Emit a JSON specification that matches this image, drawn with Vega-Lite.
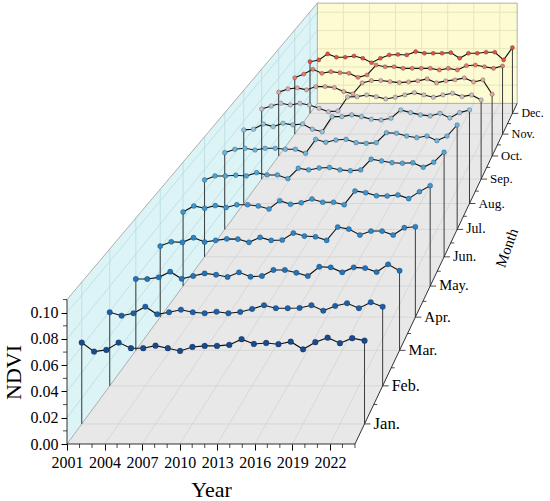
{
"$schema": "https://vega.github.io/schema/vega-lite/v6.json",
"width": 483, "height": 444,
"autosize": {"type": "none"},
"padding": {"left": 67, "top": 0, "right": 0, "bottom": 57},
"background": "white",
"config": {"view": {"stroke": null}, "font": "Liberation Serif", "axis": {"labelFont": "Liberation Serif", "titleFont": "Liberation Serif"}},
"datasets": {
"ndvi": [
{"m":1,"yr":2001,"v":0.0631},{"m":1,"yr":2002,"v":0.0561},{"m":1,"yr":2003,"v":0.0574},{"m":1,"yr":2004,"v":0.0631},{"m":1,"yr":2005,"v":0.0587},{"m":1,"yr":2006,"v":0.0587},{"m":1,"yr":2007,"v":0.0607},{"m":1,"yr":2008,"v":0.0587},{"m":1,"yr":2009,"v":0.0566},{"m":1,"yr":2010,"v":0.0597},{"m":1,"yr":2011,"v":0.0605},{"m":1,"yr":2012,"v":0.0605},{"m":1,"yr":2013,"v":0.0613},{"m":1,"yr":2014,"v":0.0657},{"m":1,"yr":2015,"v":0.0620},{"m":1,"yr":2016,"v":0.0628},{"m":1,"yr":2017,"v":0.0618},{"m":1,"yr":2018,"v":0.0638},{"m":1,"yr":2019,"v":0.0579},{"m":1,"yr":2020,"v":0.0634},{"m":1,"yr":2021,"v":0.0669},{"m":1,"yr":2022,"v":0.0626},{"m":1,"yr":2023,"v":0.0665},{"m":1,"yr":2024,"v":0.0646},
{"m":2,"yr":2001,"v":0.0591},{"m":2,"yr":2002,"v":0.0564},{"m":2,"yr":2003,"v":0.0583},{"m":2,"yr":2004,"v":0.0636},{"m":2,"yr":2005,"v":0.0575},{"m":2,"yr":2006,"v":0.0591},{"m":2,"yr":2007,"v":0.0612},{"m":2,"yr":2008,"v":0.0591},{"m":2,"yr":2009,"v":0.0583},{"m":2,"yr":2010,"v":0.0596},{"m":2,"yr":2011,"v":0.0583},{"m":2,"yr":2012,"v":0.0594},{"m":2,"yr":2013,"v":0.0618},{"m":2,"yr":2014,"v":0.0648},{"m":2,"yr":2015,"v":0.0624},{"m":2,"yr":2016,"v":0.0624},{"m":2,"yr":2017,"v":0.0626},{"m":2,"yr":2018,"v":0.0648},{"m":2,"yr":2019,"v":0.0604},{"m":2,"yr":2020,"v":0.0642},{"m":2,"yr":2021,"v":0.0664},{"m":2,"yr":2022,"v":0.0624},{"m":2,"yr":2023,"v":0.0672},{"m":2,"yr":2024,"v":0.0636},
{"m":3,"yr":2001,"v":0.0593},{"m":3,"yr":2002,"v":0.0593},{"m":3,"yr":2003,"v":0.0607},{"m":3,"yr":2004,"v":0.0654},{"m":3,"yr":2005,"v":0.0595},{"m":3,"yr":2006,"v":0.0618},{"m":3,"yr":2007,"v":0.0640},{"m":3,"yr":2008,"v":0.0629},{"m":3,"yr":2009,"v":0.0610},{"m":3,"yr":2010,"v":0.0649},{"m":3,"yr":2011,"v":0.0612},{"m":3,"yr":2012,"v":0.0618},{"m":3,"yr":2013,"v":0.0668},{"m":3,"yr":2014,"v":0.0668},{"m":3,"yr":2015,"v":0.0645},{"m":3,"yr":2016,"v":0.0618},{"m":3,"yr":2017,"v":0.0695},{"m":3,"yr":2018,"v":0.0690},{"m":3,"yr":2019,"v":0.0649},{"m":3,"yr":2020,"v":0.0690},{"m":3,"yr":2021,"v":0.0684},{"m":3,"yr":2022,"v":0.0651},{"m":3,"yr":2023,"v":0.0715},{"m":3,"yr":2024,"v":0.0662},
{"m":4,"yr":2001,"v":0.0611},{"m":4,"yr":2002,"v":0.0648},{"m":4,"yr":2003,"v":0.0643},{"m":4,"yr":2004,"v":0.0683},{"m":4,"yr":2005,"v":0.0646},{"m":4,"yr":2006,"v":0.0660},{"m":4,"yr":2007,"v":0.0673},{"m":4,"yr":2008,"v":0.0671},{"m":4,"yr":2009,"v":0.0643},{"m":4,"yr":2010,"v":0.0686},{"m":4,"yr":2011,"v":0.0660},{"m":4,"yr":2012,"v":0.0663},{"m":4,"yr":2013,"v":0.0723},{"m":4,"yr":2014,"v":0.0697},{"m":4,"yr":2015,"v":0.0691},{"m":4,"yr":2016,"v":0.0660},{"m":4,"yr":2017,"v":0.0775},{"m":4,"yr":2018,"v":0.0757},{"m":4,"yr":2019,"v":0.0706},{"m":4,"yr":2020,"v":0.0740},{"m":4,"yr":2021,"v":0.0740},{"m":4,"yr":2022,"v":0.0706},{"m":4,"yr":2023,"v":0.0769},{"m":4,"yr":2024,"v":0.0777},
{"m":5,"yr":2001,"v":0.0658},{"m":5,"yr":2002,"v":0.0711},{"m":5,"yr":2003,"v":0.0691},{"m":5,"yr":2004,"v":0.0714},{"m":5,"yr":2005,"v":0.0698},{"m":5,"yr":2006,"v":0.0722},{"m":5,"yr":2007,"v":0.0722},{"m":5,"yr":2008,"v":0.0711},{"m":5,"yr":2009,"v":0.0684},{"m":5,"yr":2010,"v":0.0758},{"m":5,"yr":2011,"v":0.0726},{"m":5,"yr":2012,"v":0.0740},{"m":5,"yr":2013,"v":0.0773},{"m":5,"yr":2014,"v":0.0744},{"m":5,"yr":2015,"v":0.0744},{"m":5,"yr":2016,"v":0.0722},{"m":5,"yr":2017,"v":0.0844},{"m":5,"yr":2018,"v":0.0829},{"m":5,"yr":2019,"v":0.0801},{"m":5,"yr":2020,"v":0.0800},{"m":5,"yr":2021,"v":0.0809},{"m":5,"yr":2022,"v":0.0776},{"m":5,"yr":2023,"v":0.0838},{"m":5,"yr":2024,"v":0.0891},
{"m":6,"yr":2001,"v":0.0704},{"m":6,"yr":2002,"v":0.0741},{"m":6,"yr":2003,"v":0.0741},{"m":6,"yr":2004,"v":0.0747},{"m":6,"yr":2005,"v":0.0741},{"m":6,"yr":2006,"v":0.0771},{"m":6,"yr":2007,"v":0.0750},{"m":6,"yr":2008,"v":0.0750},{"m":6,"yr":2009,"v":0.0716},{"m":6,"yr":2010,"v":0.0811},{"m":6,"yr":2011,"v":0.0796},{"m":6,"yr":2012,"v":0.0814},{"m":6,"yr":2013,"v":0.0818},{"m":6,"yr":2014,"v":0.0796},{"m":6,"yr":2015,"v":0.0789},{"m":6,"yr":2016,"v":0.0796},{"m":6,"yr":2017,"v":0.0894},{"m":6,"yr":2018,"v":0.0878},{"m":6,"yr":2019,"v":0.0862},{"m":6,"yr":2020,"v":0.0857},{"m":6,"yr":2021,"v":0.0862},{"m":6,"yr":2022,"v":0.0820},{"m":6,"yr":2023,"v":0.0866},{"m":6,"yr":2024,"v":0.0958},
{"m":7,"yr":2001,"v":0.0724},{"m":7,"yr":2002,"v":0.0756},{"m":7,"yr":2003,"v":0.0765},{"m":7,"yr":2004,"v":0.0749},{"m":7,"yr":2005,"v":0.0765},{"m":7,"yr":2006,"v":0.0765},{"m":7,"yr":2007,"v":0.0756},{"m":7,"yr":2008,"v":0.0756},{"m":7,"yr":2009,"v":0.0718},{"m":7,"yr":2010,"v":0.0850},{"m":7,"yr":2011,"v":0.0822},{"m":7,"yr":2012,"v":0.0843},{"m":7,"yr":2013,"v":0.0850},{"m":7,"yr":2014,"v":0.0818},{"m":7,"yr":2015,"v":0.0812},{"m":7,"yr":2016,"v":0.0818},{"m":7,"yr":2017,"v":0.0912},{"m":7,"yr":2018,"v":0.0907},{"m":7,"yr":2019,"v":0.0881},{"m":7,"yr":2020,"v":0.0865},{"m":7,"yr":2021,"v":0.0881},{"m":7,"yr":2022,"v":0.0837},{"m":7,"yr":2023,"v":0.0881},{"m":7,"yr":2024,"v":0.0985},
{"m":8,"yr":2001,"v":0.0715},{"m":8,"yr":2002,"v":0.0722},{"m":8,"yr":2003,"v":0.0773},{"m":8,"yr":2004,"v":0.0747},{"m":8,"yr":2005,"v":0.0780},{"m":8,"yr":2006,"v":0.0764},{"m":8,"yr":2007,"v":0.0773},{"m":8,"yr":2008,"v":0.0722},{"m":8,"yr":2009,"v":0.0698},{"m":8,"yr":2010,"v":0.0844},{"m":8,"yr":2011,"v":0.0844},{"m":8,"yr":2012,"v":0.0861},{"m":8,"yr":2013,"v":0.0844},{"m":8,"yr":2014,"v":0.0819},{"m":8,"yr":2015,"v":0.0812},{"m":8,"yr":2016,"v":0.0829},{"m":8,"yr":2017,"v":0.0909},{"m":8,"yr":2018,"v":0.0883},{"m":8,"yr":2019,"v":0.0861},{"m":8,"yr":2020,"v":0.0851},{"m":8,"yr":2021,"v":0.0877},{"m":8,"yr":2022,"v":0.0832},{"m":8,"yr":2023,"v":0.0883},{"m":8,"yr":2024,"v":0.0909},
{"m":9,"yr":2001,"v":0.0701},{"m":9,"yr":2002,"v":0.0731},{"m":9,"yr":2003,"v":0.0758},{"m":9,"yr":2004,"v":0.0741},{"m":9,"yr":2005,"v":0.0758},{"m":9,"yr":2006,"v":0.0741},{"m":9,"yr":2007,"v":0.0708},{"m":9,"yr":2008,"v":0.0674},{"m":9,"yr":2009,"v":0.0681},{"m":9,"yr":2010,"v":0.0821},{"m":9,"yr":2011,"v":0.0824},{"m":9,"yr":2012,"v":0.0841},{"m":9,"yr":2013,"v":0.0824},{"m":9,"yr":2014,"v":0.0801},{"m":9,"yr":2015,"v":0.0818},{"m":9,"yr":2016,"v":0.0841},{"m":9,"yr":2017,"v":0.0864},{"m":9,"yr":2018,"v":0.0841},{"m":9,"yr":2019,"v":0.0818},{"m":9,"yr":2020,"v":0.0841},{"m":9,"yr":2021,"v":0.0858},{"m":9,"yr":2022,"v":0.0824},{"m":9,"yr":2023,"v":0.0841},{"m":9,"yr":2024,"v":0.0791},
{"m":10,"yr":2001,"v":0.0656},{"m":10,"yr":2002,"v":0.0689},{"m":10,"yr":2003,"v":0.0700},{"m":10,"yr":2004,"v":0.0679},{"m":10,"yr":2005,"v":0.0713},{"m":10,"yr":2006,"v":0.0713},{"m":10,"yr":2007,"v":0.0703},{"m":10,"yr":2008,"v":0.0662},{"m":10,"yr":2009,"v":0.0638},{"m":10,"yr":2010,"v":0.0751},{"m":10,"yr":2011,"v":0.0775},{"m":10,"yr":2012,"v":0.0775},{"m":10,"yr":2013,"v":0.0764},{"m":10,"yr":2014,"v":0.0754},{"m":10,"yr":2015,"v":0.0761},{"m":10,"yr":2016,"v":0.0772},{"m":10,"yr":2017,"v":0.0792},{"m":10,"yr":2018,"v":0.0751},{"m":10,"yr":2019,"v":0.0772},{"m":10,"yr":2020,"v":0.0782},{"m":10,"yr":2021,"v":0.0802},{"m":10,"yr":2022,"v":0.0761},{"m":10,"yr":2023,"v":0.0782},{"m":10,"yr":2024,"v":0.0635},
{"m":11,"yr":2001,"v":0.0595},{"m":11,"yr":2002,"v":0.0634},{"m":11,"yr":2003,"v":0.0684},{"m":11,"yr":2004,"v":0.0642},{"m":11,"yr":2005,"v":0.0659},{"m":11,"yr":2006,"v":0.0648},{"m":11,"yr":2007,"v":0.0642},{"m":11,"yr":2008,"v":0.0599},{"m":11,"yr":2009,"v":0.0624},{"m":11,"yr":2010,"v":0.0729},{"m":11,"yr":2011,"v":0.0711},{"m":11,"yr":2012,"v":0.0711},{"m":11,"yr":2013,"v":0.0694},{"m":11,"yr":2014,"v":0.0694},{"m":11,"yr":2015,"v":0.0694},{"m":11,"yr":2016,"v":0.0694},{"m":11,"yr":2017,"v":0.0677},{"m":11,"yr":2018,"v":0.0694},{"m":11,"yr":2019,"v":0.0677},{"m":11,"yr":2020,"v":0.0722},{"m":11,"yr":2021,"v":0.0729},{"m":11,"yr":2022,"v":0.0711},{"m":11,"yr":2023,"v":0.0694},{"m":11,"yr":2024,"v":0.0719},
{"m":12,"yr":2001,"v":0.0560},{"m":12,"yr":2002,"v":0.0579},{"m":12,"yr":2003,"v":0.0644},{"m":12,"yr":2004,"v":0.0608},{"m":12,"yr":2005,"v":0.0608},{"m":12,"yr":2006,"v":0.0622},{"m":12,"yr":2007,"v":0.0597},{"m":12,"yr":2008,"v":0.0549},{"m":12,"yr":2009,"v":0.0597},{"m":12,"yr":2010,"v":0.0633},{"m":12,"yr":2011,"v":0.0638},{"m":12,"yr":2012,"v":0.0633},{"m":12,"yr":2013,"v":0.0669},{"m":12,"yr":2014,"v":0.0651},{"m":12,"yr":2015,"v":0.0651},{"m":12,"yr":2016,"v":0.0651},{"m":12,"yr":2017,"v":0.0658},{"m":12,"yr":2018,"v":0.0597},{"m":12,"yr":2019,"v":0.0651},{"m":12,"yr":2020,"v":0.0651},{"m":12,"yr":2021,"v":0.0662},{"m":12,"yr":2022,"v":0.0662},{"m":12,"yr":2023,"v":0.0579},{"m":12,"yr":2024,"v":0.0712}
],
"seg": [
{"g":"f","yrA":2001,"mA":1,"vA":0,"yrB":2024,"mB":1,"vB":0},{"g":"f","yrA":2001,"mA":2,"vA":0,"yrB":2024,"mB":2,"vB":0},{"g":"f","yrA":2001,"mA":3,"vA":0,"yrB":2024,"mB":3,"vB":0},{"g":"f","yrA":2001,"mA":4,"vA":0,"yrB":2024,"mB":4,"vB":0},{"g":"f","yrA":2001,"mA":5,"vA":0,"yrB":2024,"mB":5,"vB":0},{"g":"f","yrA":2001,"mA":6,"vA":0,"yrB":2024,"mB":6,"vB":0},{"g":"f","yrA":2001,"mA":7,"vA":0,"yrB":2024,"mB":7,"vB":0},{"g":"f","yrA":2001,"mA":8,"vA":0,"yrB":2024,"mB":8,"vB":0},{"g":"f","yrA":2001,"mA":9,"vA":0,"yrB":2024,"mB":9,"vB":0},{"g":"f","yrA":2001,"mA":10,"vA":0,"yrB":2024,"mB":10,"vB":0},{"g":"f","yrA":2001,"mA":11,"vA":0,"yrB":2024,"mB":11,"vB":0},{"g":"f","yrA":2001,"mA":12,"vA":0,"yrB":2024,"mB":12,"vB":0},
{"g":"f","yrA":2004,"mA":0.5,"vA":0,"yrB":2004,"mB":12.5,"vB":0},{"g":"f","yrA":2007,"mA":0.5,"vA":0,"yrB":2007,"mB":12.5,"vB":0},{"g":"f","yrA":2010,"mA":0.5,"vA":0,"yrB":2010,"mB":12.5,"vB":0},{"g":"f","yrA":2013,"mA":0.5,"vA":0,"yrB":2013,"mB":12.5,"vB":0},{"g":"f","yrA":2016,"mA":0.5,"vA":0,"yrB":2016,"mB":12.5,"vB":0},{"g":"f","yrA":2019,"mA":0.5,"vA":0,"yrB":2019,"mB":12.5,"vB":0},{"g":"f","yrA":2022,"mA":0.5,"vA":0,"yrB":2022,"mB":12.5,"vB":0},
{"g":"w","yrA":2001,"mA":1,"vA":0,"yrB":2001,"mB":1,"vB":0.11},{"g":"w","yrA":2001,"mA":2,"vA":0,"yrB":2001,"mB":2,"vB":0.11},{"g":"w","yrA":2001,"mA":3,"vA":0,"yrB":2001,"mB":3,"vB":0.11},{"g":"w","yrA":2001,"mA":4,"vA":0,"yrB":2001,"mB":4,"vB":0.11},{"g":"w","yrA":2001,"mA":5,"vA":0,"yrB":2001,"mB":5,"vB":0.11},{"g":"w","yrA":2001,"mA":6,"vA":0,"yrB":2001,"mB":6,"vB":0.11},{"g":"w","yrA":2001,"mA":7,"vA":0,"yrB":2001,"mB":7,"vB":0.11},{"g":"w","yrA":2001,"mA":8,"vA":0,"yrB":2001,"mB":8,"vB":0.11},{"g":"w","yrA":2001,"mA":9,"vA":0,"yrB":2001,"mB":9,"vB":0.11},{"g":"w","yrA":2001,"mA":10,"vA":0,"yrB":2001,"mB":10,"vB":0.11},{"g":"w","yrA":2001,"mA":11,"vA":0,"yrB":2001,"mB":11,"vB":0.11},{"g":"w","yrA":2001,"mA":12,"vA":0,"yrB":2001,"mB":12,"vB":0.11},
{"g":"w","yrA":2001,"mA":0.5,"vA":0.02,"yrB":2001,"mB":12.5,"vB":0.02},{"g":"w","yrA":2001,"mA":0.5,"vA":0.04,"yrB":2001,"mB":12.5,"vB":0.04},{"g":"w","yrA":2001,"mA":0.5,"vA":0.06,"yrB":2001,"mB":12.5,"vB":0.06},{"g":"w","yrA":2001,"mA":0.5,"vA":0.08,"yrB":2001,"mB":12.5,"vB":0.08},{"g":"w","yrA":2001,"mA":0.5,"vA":0.10,"yrB":2001,"mB":12.5,"vB":0.10},
{"g":"b","yrA":2004,"mA":12.5,"vA":0,"yrB":2004,"mB":12.5,"vB":0.11},{"g":"b","yrA":2007,"mA":12.5,"vA":0,"yrB":2007,"mB":12.5,"vB":0.11},{"g":"b","yrA":2010,"mA":12.5,"vA":0,"yrB":2010,"mB":12.5,"vB":0.11},{"g":"b","yrA":2013,"mA":12.5,"vA":0,"yrB":2013,"mB":12.5,"vB":0.11},{"g":"b","yrA":2016,"mA":12.5,"vA":0,"yrB":2016,"mB":12.5,"vB":0.11},{"g":"b","yrA":2019,"mA":12.5,"vA":0,"yrB":2019,"mB":12.5,"vB":0.11},{"g":"b","yrA":2022,"mA":12.5,"vA":0,"yrB":2022,"mB":12.5,"vB":0.11},
{"g":"b","yrA":2001,"mA":12.5,"vA":0.02,"yrB":2024,"mB":12.5,"vB":0.02},{"g":"b","yrA":2001,"mA":12.5,"vA":0.04,"yrB":2024,"mB":12.5,"vB":0.04},{"g":"b","yrA":2001,"mA":12.5,"vA":0.06,"yrB":2024,"mB":12.5,"vB":0.06},{"g":"b","yrA":2001,"mA":12.5,"vA":0.08,"yrB":2024,"mB":12.5,"vB":0.08},{"g":"b","yrA":2001,"mA":12.5,"vA":0.10,"yrB":2024,"mB":12.5,"vB":0.10},
{"g":"e","yrA":2001,"mA":0.5,"vA":0.11,"yrB":2001,"mB":12.5,"vB":0.11},{"g":"e","yrA":2001,"mA":0.5,"vA":0,"yrB":2001,"mB":12.5,"vB":0},{"g":"e","yrA":2001,"mA":12.5,"vA":0,"yrB":2001,"mB":12.5,"vB":0.11},{"g":"e","yrA":2001,"mA":12.5,"vA":0.11,"yrB":2024,"mB":12.5,"vB":0.11},{"g":"e","yrA":2024,"mA":12.5,"vA":0,"yrB":2024,"mB":12.5,"vB":0.11},{"g":"e","yrA":2001,"mA":12.5,"vA":0,"yrB":2024,"mB":12.5,"vB":0},
{"g":"a","yrA":2001,"mA":0.5,"vA":0,"yrB":2024,"mB":0.5,"vB":0},{"g":"a","yrA":2001,"mA":0.5,"vA":0,"yrB":2001,"mB":0.5,"vB":0.11},{"g":"a","yrA":2024,"mA":0.5,"vA":0,"yrB":2024,"mB":12.5,"vB":0}
],
"months": [
{"m":1,"label":"Jan."},{"m":2,"label":"Feb."},{"m":3,"label":"Mar."},{"m":4,"label":"Apr."},{"m":5,"label":"May."},{"m":6,"label":"Jun."},{"m":7,"label":"Jul."},{"m":8,"label":"Aug."},{"m":9,"label":"Sep."},{"m":10,"label":"Oct."},{"m":11,"label":"Nov."},{"m":12,"label":"Dec."}
]
},
"encoding": {
"x": {"field": "X", "type": "quantitative", "scale": {"domain": [2001, 2039.578], "nice": false, "zero": false},
 "axis": {"values": [2001,2004,2007,2010,2013,2016,2019,2022], "format": "d", "domain": false, "grid": false, "tickSize": 6, "tickColor": "black", "tickWidth": 1, "labelFont": "Liberation Serif", "labelFontSize": 16, "labelColor": "black", "labelPadding": 4, "labelFlush": false, "labelOverlap": false, "title": "Year", "titleFont": "Liberation Serif", "titleFontSize": 22, "titleFontWeight": "normal", "titleColor": "black", "titleX": 144, "titleY": 45, "titleAlign": "center", "titleBaseline": "middle", "titleAnchor": null}},
"y": {"field": "Y", "type": "quantitative", "scale": {"domain": [0, 0.338157], "nice": false, "zero": false},
 "axis": {"values": [0,0.02,0.04,0.06,0.08,0.1], "format": ".2f", "domain": false, "grid": false, "tickSize": 6, "tickColor": "black", "tickWidth": 1, "labelFont": "Liberation Serif", "labelFontSize": 16, "labelColor": "black", "labelPadding": 3, "labelFlush": false, "labelOverlap": false, "title": "NDVI", "titleFont": "Liberation Serif", "titleFontSize": 22, "titleFontWeight": "normal", "titleColor": "black", "titleX": -54, "titleY": 372, "titleAngle": -90, "titleAlign": "center", "titleBaseline": "middle", "titleAnchor": null}}
},
"layer": [
{
 "data": {"values": [{"yr": 2001, "yr2": 2024, "m": 12.5, "v": 0, "v2": 0.11}]},
 "transform": [
  {"calculate": "1/(1+(datum.m-0.5)*0.03675)", "as": "s"},
  {"calculate": "2066.335+(datum.yr-2066.335)*datum.s", "as": "X"},
  {"calculate": "2066.335+(datum.yr2-2066.335)*datum.s", "as": "X2"},
  {"calculate": "0.84768+(datum.v-0.84768)*datum.s", "as": "Y"},
  {"calculate": "0.84768+(datum.v2-0.84768)*datum.s", "as": "Y2"}
 ],
 "mark": {"type": "rect", "fill": "#fdfbd2"},
 "encoding": {"x2": {"field": "X2"}, "y2": {"field": "Y2"}}
},
{
 "data": {"values": [{"yr": 2001, "yr2": 2024, "m": 0.5, "v": 0}, {"yr": 2001, "yr2": 2024, "m": 12.5, "v": 0}]},
 "transform": [
  {"calculate": "1/(1+(datum.m-0.5)*0.03675)", "as": "s"},
  {"calculate": "2066.335+(datum.yr-2066.335)*datum.s", "as": "X"},
  {"calculate": "2066.335+(datum.yr2-2066.335)*datum.s", "as": "X2"},
  {"calculate": "0.84768+(datum.v-0.84768)*datum.s", "as": "Y"}
 ],
 "mark": {"type": "area", "orient": "horizontal", "fill": "#e8e8e8"},
 "encoding": {"x2": {"field": "X2"}}
},
{
 "data": {"values": [{"yr": 2001, "m": 0.5, "v": 0, "v2": 0.11}, {"yr": 2001, "m": 12.5, "v": 0, "v2": 0.11}]},
 "transform": [
  {"calculate": "1/(1+(datum.m-0.5)*0.03675)", "as": "s"},
  {"calculate": "2066.335+(datum.yr-2066.335)*datum.s", "as": "X"},
  {"calculate": "0.84768+(datum.v-0.84768)*datum.s", "as": "Y"},
  {"calculate": "0.84768+(datum.v2-0.84768)*datum.s", "as": "Y2"}
 ],
 "mark": {"type": "area", "orient": "vertical", "fill": "#ddf4f6"},
 "encoding": {"y2": {"field": "Y2"}}
},
{
 "data": {"name": "seg"},
 "transform": [
  {"calculate": "1/(1+(datum.mA-0.5)*0.03675)", "as": "sA"},
  {"calculate": "1/(1+(datum.mB-0.5)*0.03675)", "as": "sB"},
  {"calculate": "2066.335+(datum.yrA-2066.335)*datum.sA", "as": "X"},
  {"calculate": "0.84768+(datum.vA-0.84768)*datum.sA", "as": "Y"},
  {"calculate": "2066.335+(datum.yrB-2066.335)*datum.sB", "as": "X2"},
  {"calculate": "0.84768+(datum.vB-0.84768)*datum.sB", "as": "Y2"}
 ],
 "mark": {"type": "rule"},
 "encoding": {
  "x2": {"field": "X2"}, "y2": {"field": "Y2"},
  "stroke": {"field": "g", "type": "nominal", "scale": {"domain": ["f","w","b","e","a"], "range": ["#d3d3d3","#b8dce1","#e3e0b6","#9a9a9a","#000000"]}, "legend": null},
  "strokeWidth": {"field": "g", "type": "nominal", "scale": {"domain": ["f","w","b","e","a"], "range": [0.8,0.8,0.8,1,1.3]}, "legend": null}
 }
},
{
 "data": {"name": "ndvi"},
 "transform": [
  {"filter": "datum.yr == 2001 || datum.yr == 2024"},
  {"calculate": "1/(1+(datum.m-0.5)*0.03675)", "as": "s"},
  {"calculate": "2066.335+(datum.yr-2066.335)*datum.s", "as": "X"},
  {"calculate": "0.84768+(datum.v-0.84768)*datum.s", "as": "Y"},
  {"calculate": "0.84768*(1-datum.s)", "as": "Y2"}
 ],
 "mark": {"type": "rule", "color": "#3c3c3c", "strokeWidth": 1},
 "encoding": {"y2": {"field": "Y2"}}
},
{
 "data": {"name": "ndvi"},
 "transform": [
  {"calculate": "1/(1+(datum.m-0.5)*0.03675)", "as": "s"},
  {"calculate": "2066.335+(datum.yr-2066.335)*datum.s", "as": "X"},
  {"calculate": "0.84768+(datum.v-0.84768)*datum.s", "as": "Y"}
 ],
 "mark": {"type": "line", "color": "#111111", "strokeWidth": 1.1},
 "encoding": {"detail": {"field": "m", "type": "nominal"}, "order": {"field": "yr", "type": "quantitative"}}
},
{
 "data": {"name": "ndvi"},
 "transform": [
  {"calculate": "1/(1+(datum.m-0.5)*0.03675)", "as": "s"},
  {"calculate": "2066.335+(datum.yr-2066.335)*datum.s", "as": "X"},
  {"calculate": "0.84768+(datum.v-0.84768)*datum.s", "as": "Y"},
  {"calculate": "34*datum.s*datum.s", "as": "sz"}
 ],
 "mark": {"type": "point", "filled": true, "shape": "circle", "opacity": 1, "stroke": "#0a1a30", "strokeOpacity": 0.45, "strokeWidth": 0.6},
 "encoding": {
  "fill": {"field": "m", "type": "ordinal", "scale": {"domain": [1,2,3,4,5,6,7,8,9,10,11,12], "range": ["#1a4a8c","#1d60a9","#2274ba","#2a86c8","#3a97d1","#4ea6d7","#6db5da","#9ac3d6","#cbbfc3","#e5a898","#ec7d62","#e4523c"]}, "legend": null},
  "size": {"field": "sz", "type": "quantitative", "scale": null}
 }
},
{
 "data": {"values": [{"yr":2002},{"yr":2003},{"yr":2005},{"yr":2006},{"yr":2008},{"yr":2009},{"yr":2011},{"yr":2012},{"yr":2014},{"yr":2015},{"yr":2017},{"yr":2018},{"yr":2020},{"yr":2021},{"yr":2023},{"yr":2024}]},
 "transform": [{"calculate": "datum.yr", "as": "X"}, {"calculate": "0", "as": "Y"}],
 "mark": {"type": "tick", "orient": "vertical", "size": 4, "thickness": 1, "color": "black", "yOffset": 2}
},
{
 "data": {"values": [{"v":0.01},{"v":0.03},{"v":0.05},{"v":0.07},{"v":0.09},{"v":0.11}]},
 "transform": [{"calculate": "2001", "as": "X"}, {"calculate": "datum.v", "as": "Y"}],
 "mark": {"type": "tick", "orient": "horizontal", "size": 4, "thickness": 1, "color": "black", "xOffset": -2}
},
{
 "data": {"name": "months"},
 "transform": [
  {"calculate": "1/(1+(datum.m-0.5)*0.03675)", "as": "s"},
  {"calculate": "2066.335+(2024-2066.335)*datum.s", "as": "X"},
  {"calculate": "0.84768*(1-datum.s)", "as": "Y"}
 ],
 "mark": {"type": "tick", "orient": "horizontal", "size": 6, "thickness": 1, "color": "black", "xOffset": 3}
},
{
 "data": {"values": [{"m":1.5},{"m":2.5},{"m":3.5},{"m":4.5},{"m":5.5},{"m":6.5},{"m":7.5},{"m":8.5},{"m":9.5},{"m":10.5},{"m":11.5}]},
 "transform": [
  {"calculate": "1/(1+(datum.m-0.5)*0.03675)", "as": "s"},
  {"calculate": "2066.335+(2024-2066.335)*datum.s", "as": "X"},
  {"calculate": "0.84768*(1-datum.s)", "as": "Y"}
 ],
 "mark": {"type": "tick", "orient": "horizontal", "size": 3.5, "thickness": 1, "color": "black", "xOffset": 1.75}
},
{
 "data": {"name": "months"},
 "transform": [
  {"calculate": "1/(1+(datum.m-0.5)*0.03675)", "as": "s"},
  {"calculate": "2066.335+(2024-2066.335)*datum.s", "as": "X"},
  {"calculate": "0.84768*(1-datum.s)", "as": "Y"},
  {"calculate": "17*datum.s", "as": "fs"}
 ],
 "mark": {"type": "text", "align": "left", "baseline": "middle", "dx": 9, "font": "Liberation Serif", "color": "black"},
 "encoding": {"text": {"field": "label"}, "size": {"field": "fs", "type": "quantitative", "scale": null}}
},
{
 "data": {"values": [{"m": 6.5, "title": "Month"}]},
 "transform": [
  {"calculate": "1/(1+(datum.m-0.5)*0.03675)", "as": "s"},
  {"calculate": "2066.335+(2024-2066.335)*datum.s", "as": "X"},
  {"calculate": "0.84768*(1-datum.s)", "as": "Y"}
 ],
 "mark": {"type": "text", "align": "center", "baseline": "middle", "angle": -70, "dx": 14.5, "dy": 54.4, "fontSize": 15, "font": "Liberation Serif", "color": "black"},
 "encoding": {"text": {"field": "title"}}
}
]
}
